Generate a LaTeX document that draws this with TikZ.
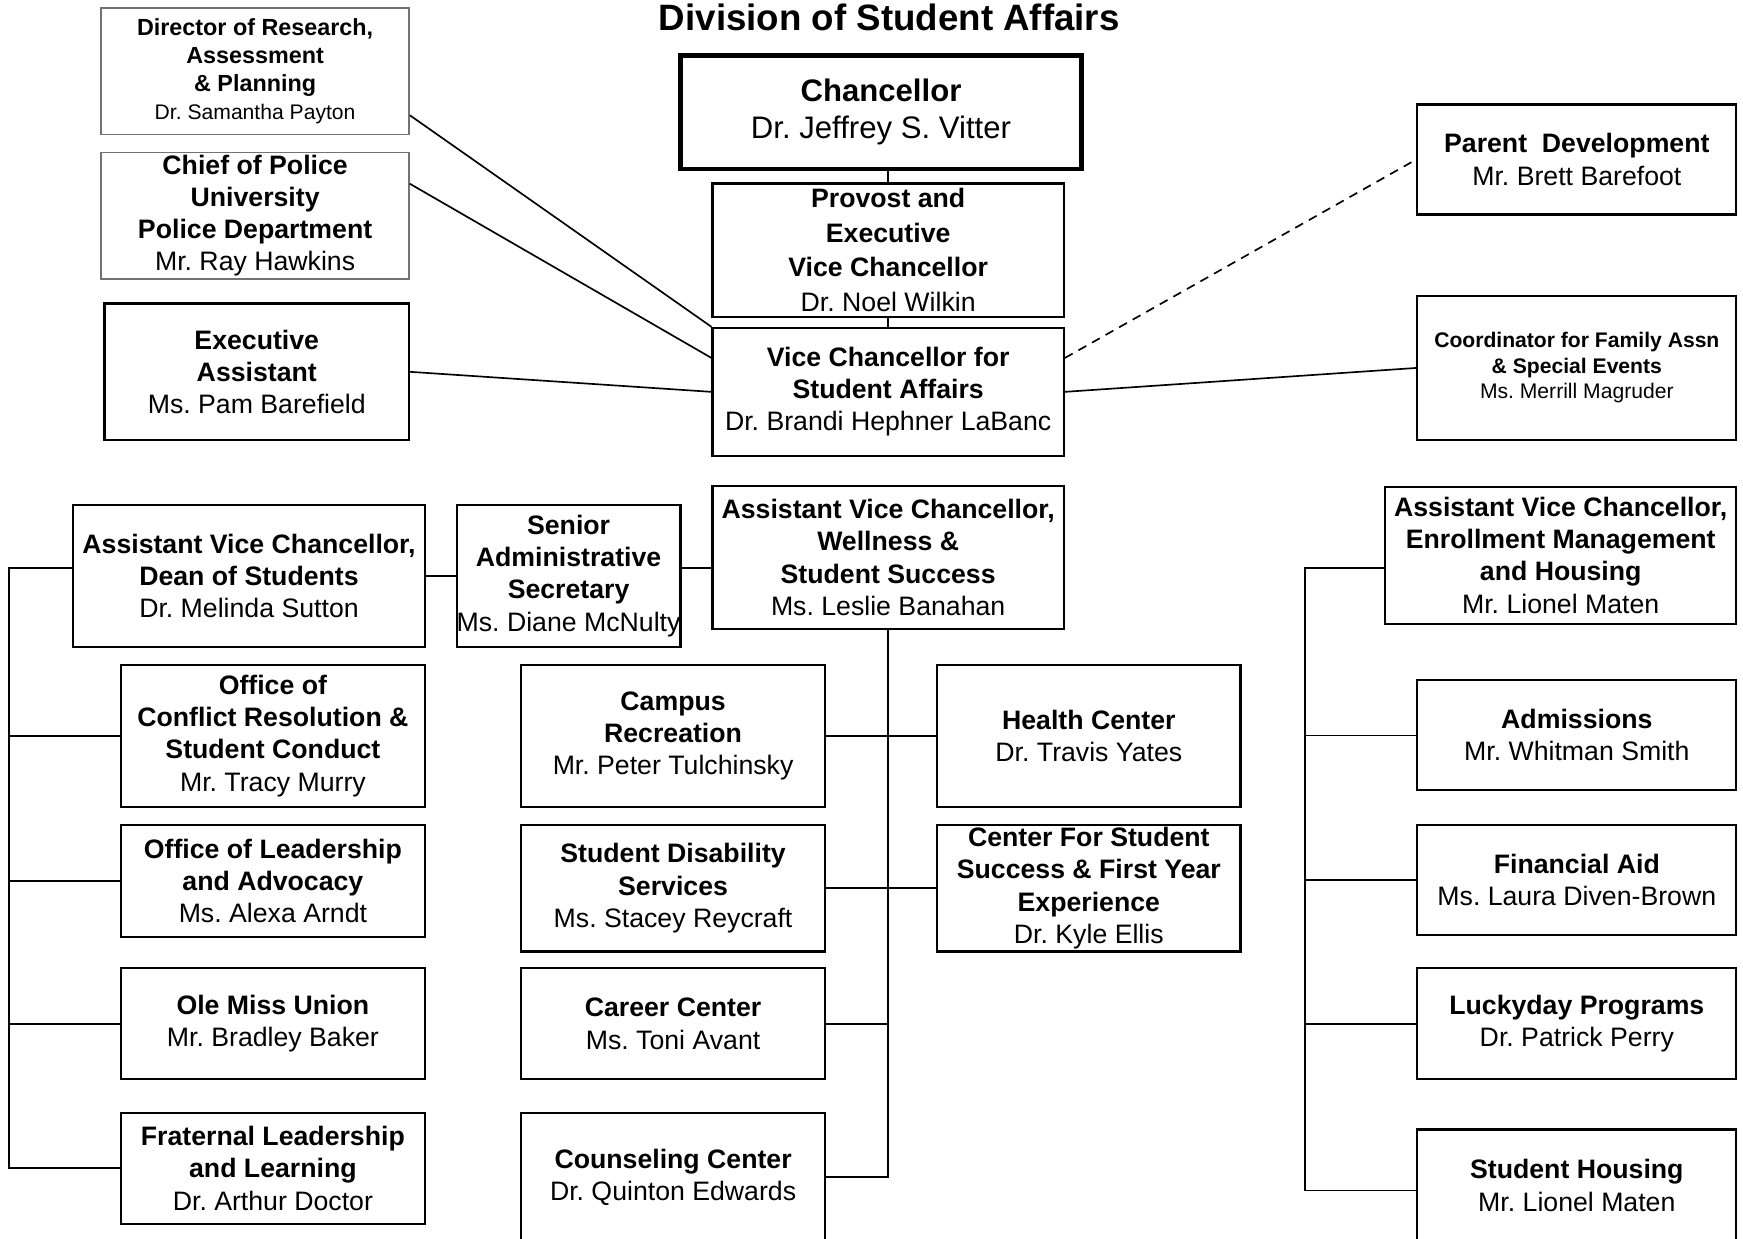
\documentclass[tikz,border=0pt]{standalone}
\usepackage{fontspec}
\setmainfont{Liberation Sans}
\frenchspacing

\newcommand{\unitfont}{\fontsize{12}{14.5}\selectfont}
\newcommand{\smallunitfont}{\fontsize{9.5}{11.5}\selectfont}

\begin{document}
\begin{tikzpicture}[x=0.5pt,y=-0.5pt,
   unit/.style={draw,line width=1pt,inner sep=0pt,align=center,font=\unitfont},
   greyunit/.style={unit,draw=black!55,line width=0.7pt},
   dims/.style 2 args={minimum width=#1*0.5pt,minimum height=#2*0.5pt},
   link/.style={line width=0.75pt}]
   \useasboundingbox (0,0) rectangle (1568,1114);
   \node (title) at (800,16) {\fontsize{16.5}{19}\selectfont\bfseries Division of Student Affairs};
   \node[unit,line width=2.2pt,dims={361}{102},font=\fontsize{14}{16.5}\selectfont] (chan) at (792.5,101) {\textbf{Chancellor}\\Dr. Jeffrey S. Vitter};
   \node[unit,dims={316}{120},font=\fontsize{12}{15.5}\selectfont] (prov) at (799,225) {\textbf{Provost and}\\\textbf{Executive}\\\textbf{Vice Chancellor}\\Dr. Noel Wilkin};
   \node[unit,dims={316}{115}] (vcsa) at (799,352.5) {\textbf{Vice Chancellor for}\\\textbf{Student Affairs}\\Dr. Brandi Hephner LaBanc};
   \node[greyunit,dims={277}{114},font=\fontsize{10.5}{12.5}\selectfont] (dir) at (229.5,64) {\textbf{Director of Research,}\\\textbf{Assessment}\\\textbf{\& Planning}\\{\fontsize{9.5}{12.5}\selectfont Dr. Samantha Payton}};
   \node[greyunit,dims={277}{114}] (pol) at (229.5,194) {\textbf{Chief of Police}\\\textbf{University}\\\textbf{Police Department}\\Mr. Ray Hawkins};
   \node[unit,dims={274}{123}] (exec) at (231,334.5) {\textbf{Executive}\\\textbf{Assistant}\\Ms. Pam Barefield};
   \node[unit,dims={287}{99}] (parent) at (1418.5,143.5) {\textbf{Parent\ \ Development}\\Mr. Brett Barefoot};
   \node[unit,dims={287}{130},font=\smallunitfont] (coord) at (1418.5,331) {\textbf{Coordinator for Family Assn}\\\textbf{\& Special Events}\\Ms. Merrill Magruder};
   \node[unit,dims={316}{128}] (dean) at (224,518) {\textbf{Assistant Vice Chancellor,}\\\textbf{Dean of Students}\\Dr. Melinda Sutton};
   \node[unit,dims={201}{128}] (sen) at (511.5,518) {\textbf{Senior}\\\textbf{Administrative}\\\textbf{Secretary}\\Ms. Diane McNulty};
   \node[unit,dims={316}{129}] (wel) at (799,501.5) {\textbf{Assistant Vice Chancellor,}\\\textbf{Wellness \&}\\\textbf{Student Success}\\Ms. Leslie Banahan};
   \node[unit,dims={316}{123}] (enr) at (1404,499.5) {\textbf{Assistant Vice Chancellor,}\\\textbf{Enrollment Management}\\\textbf{and Housing}\\Mr. Lionel Maten};
   \node[unit,dims={273}{128}] (conf) at (245.5,662) {\textbf{Office of}\\\textbf{Conflict Resolution \&}\\\textbf{Student Conduct}\\Mr. Tracy Murry};
   \node[unit,dims={273}{101}] (lead) at (245.5,792.5) {\textbf{Office of Leadership}\\\textbf{and Advocacy}\\Ms. Alexa Arndt};
   \node[unit,dims={273}{100}] (union) at (245.5,921) {\textbf{Ole Miss Union}\\Mr. Bradley Baker};
   \node[unit,dims={273}{100}] (frat) at (245.5,1051) {\textbf{Fraternal Leadership}\\\textbf{and Learning}\\Dr. Arthur Doctor};
   \node[unit,dims={273}{128}] (rec) at (605.5,662) {\textbf{Campus}\\\textbf{Recreation}\\Mr. Peter Tulchinsky};
   \node[unit,dims={273}{128}] (health) at (979.5,662) {\textbf{Health Center}\\Dr. Travis Yates};
   \node[unit,dims={273}{114}] (dis) at (605.5,799) {\textbf{Student Disability}\\\textbf{Services}\\Ms. Stacey Reycraft};
   \node[unit,dims={273}{114}] (css) at (979.5,799) {\textbf{Center For Student}\\\textbf{Success \& First Year}\\\textbf{Experience}\\Dr. Kyle Ellis};
   \node[unit,dims={273}{100}] (career) at (605.5,921) {\textbf{Career Center}\\Ms. Toni Avant};
   \node[unit,dims={273}{116}] (couns) at (605.5,1059) {\textbf{Counseling Center}\\Dr. Quinton Edwards};
   \node[unit,dims={287}{99}] (adm) at (1418.5,661.5) {\textbf{Admissions}\\Mr. Whitman Smith};
   \node[unit,dims={287}{99}] (fin) at (1418.5,791.5) {\textbf{Financial Aid}\\Ms. Laura Diven-Brown};
   \node[unit,dims={287}{100}] (lucky) at (1418.5,921) {\textbf{Luckyday Programs}\\Dr. Patrick Perry};
   \node[unit,dims={287}{101}] (house) at (1418.5,1066.5) {\textbf{Student Housing}\\Mr. Lionel Maten};
   \draw[link] (prov.north) -- (prov.north |- chan.south);
   \draw[link] (prov.south) -- (vcsa.north);
   \draw[link] ([yshift=9pt]dir.south east) -- (vcsa.north west);
   \draw[link] ([yshift=-14.5pt]pol.north east) -- ([yshift=-14pt]vcsa.north west);
   \draw[link] (exec.east) -- (vcsa.west);
   \draw[link,dash pattern=on 4pt off 3pt] ([yshift=-14pt]vcsa.north east) -- (parent.west);
   \draw[link] (vcsa.east) -- (coord.west);
   \draw[link] (dean.east) -- (sen.west);
   \draw[link] ([yshift=3.5pt]sen.east) -- ([yshift=3.5pt]sen.east -| wel.west);
   \coordinate (lt) at (8,511);
   \coordinate (lb) at (8,1051);
   \draw[link] (dean.west |- lt) -- (lt) -- (lb) -- (frat.west);
   \foreach \n in {conf,lead,union} \draw[link] (\n.west) -- (\n.west -| lt);
   \draw[link] (wel.south) -- (wel.south |- couns.east) -- (couns.east);
   \draw[link] (career.east) -- (career.east -| wel.south);
   \draw[link] (rec.east) -- (health.west);
   \draw[link] (dis.east) -- (css.west);
   \coordinate (rt) at (1174,511);
   \coordinate (rb) at (1174,1071);
   \draw[link] (enr.west |- rt) -- (rt) -- (rb) -- (house.west |- rb);
   \foreach \n in {adm,fin,lucky} \draw[link] (\n.west) -- (\n.west -| rt);
\end{tikzpicture}
\end{document}
